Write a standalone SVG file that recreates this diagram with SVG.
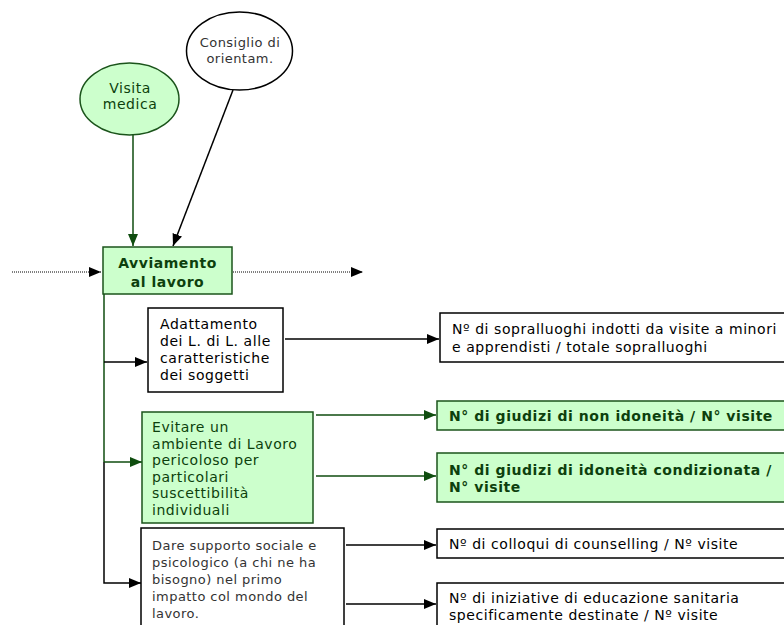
<svg xmlns="http://www.w3.org/2000/svg" width="784" height="625" viewBox="0 0 784 625">
<style>
  text { font-family: "DejaVu Sans", Verdana, sans-serif; font-size: 14px; letter-spacing: 0.55px; }
  .g { fill: #ccffcc; stroke: #1b541b; stroke-width: 1.5; }
  .w { fill: #ffffff; stroke: #000000; stroke-width: 1.5; }
  .gt { fill: #0d3f0d; }
  .bt { fill: #000000; }
  .lt { fill: #333333; font-size: 13px; letter-spacing: 0.45px; }
  .b { font-weight: bold; }
  .cg { stroke: #0f4d0f; stroke-width: 1.5; fill: none; }
  .ck { stroke: #000000; stroke-width: 1.5; fill: none; }
  .dot { stroke: #000000; stroke-width: 1; stroke-dasharray: 1 1; fill: none; }
</style>
<defs>
  <marker id="ak" markerUnits="userSpaceOnUse" markerWidth="14" markerHeight="12" refX="12" refY="5" orient="auto">
    <path d="M0,0 L12,5 L0,10 Z" fill="#000000"/>
  </marker>
  <marker id="ag" markerUnits="userSpaceOnUse" markerWidth="14" markerHeight="12" refX="12" refY="5" orient="auto">
    <path d="M0,0 L12,5 L0,10 Z" fill="#0f4d0f"/>
  </marker>
</defs>
<rect width="784" height="625" fill="#ffffff"/>

<g id="connectors">
  <line class="cg" x1="133" y1="135" x2="133" y2="246" marker-end="url(#ag)"/>
  <line class="ck" x1="233" y1="90" x2="173" y2="246" marker-end="url(#ak)"/>
  <line class="dot" x1="12" y1="272" x2="101" y2="272" marker-end="url(#ak)"/>
  <line class="dot" x1="233" y1="272" x2="363" y2="272" marker-end="url(#ak)"/>
  <line class="cg" x1="104" y1="294" x2="104" y2="462"/>
  <polyline class="ck" points="104,462 104,583 141,583" marker-end="url(#ak)"/>
  <line class="ck" x1="104" y1="362" x2="147" y2="362" marker-end="url(#ak)"/>
  <line class="cg" x1="104" y1="462" x2="142" y2="462" marker-end="url(#ag)"/>
  <line class="ck" x1="285" y1="339" x2="439" y2="339" marker-end="url(#ak)"/>
  <line class="cg" x1="316" y1="415" x2="436" y2="415" marker-end="url(#ag)"/>
  <line class="cg" x1="316" y1="476" x2="436" y2="476" marker-end="url(#ag)"/>
  <line class="ck" x1="346" y1="545" x2="436" y2="545" marker-end="url(#ak)"/>
  <line class="ck" x1="346" y1="604" x2="436" y2="604" marker-end="url(#ak)"/>
</g>

<g id="visita">
  <ellipse class="g" cx="129.5" cy="99" rx="49.5" ry="36"/>
  <text class="gt" x="130" y="93" text-anchor="middle">Visita</text>
  <text class="gt" x="130" y="109" text-anchor="middle">medica</text>
</g>

<g id="consiglio">
  <ellipse class="w" cx="239.5" cy="51" rx="53" ry="39"/>
  <text class="lt" x="240" y="47" text-anchor="middle">Consiglio di</text>
  <text class="lt" x="240" y="63" text-anchor="middle">orientam.</text>
</g>

<g id="avviamento">
  <rect class="g" x="103" y="247" width="129" height="47"/>
  <text class="gt b" x="167.5" y="268" text-anchor="middle">Avviamento</text>
  <text class="gt b" x="167.5" y="287" text-anchor="middle">al lavoro</text>
</g>

<g id="adattamento">
  <rect class="w" x="148" y="308" width="135" height="84"/>
  <text class="bt" x="160" y="329">Adattamento</text>
  <text class="bt" x="160" y="346">dei L. di L. alle</text>
  <text class="bt" x="160" y="363">caratteristiche</text>
  <text class="bt" x="160" y="380">dei soggetti</text>
</g>

<g id="evitare">
  <rect class="g" x="142" y="412" width="171" height="111"/>
  <text class="gt" x="152" y="432">Evitare un</text>
  <text class="gt" x="152" y="448.5">ambiente di Lavoro</text>
  <text class="gt" x="152" y="465">pericoloso per</text>
  <text class="gt" x="152" y="481.5">particolari</text>
  <text class="gt" x="152" y="498">suscettibilità</text>
  <text class="gt" x="152" y="514.5">individuali</text>
</g>

<g id="dare">
  <rect class="w" x="141" y="528" width="203" height="110"/>
  <text class="lt" x="152" y="550">Dare supporto sociale e</text>
  <text class="lt" x="152" y="567">psicologico (a chi ne ha</text>
  <text class="lt" x="152" y="584">bisogno) nel primo</text>
  <text class="lt" x="152" y="601">impatto col mondo del</text>
  <text class="lt" x="152" y="618">lavoro.</text>
</g>

<g id="ind1">
  <rect class="w" x="440" y="313" width="360" height="49"/>
  <text class="bt" x="452" y="334">Nº di sopralluoghi indotti da visite a minori</text>
  <text class="bt" x="452" y="352">e apprendisti / totale sopralluoghi</text>
</g>

<g id="ind2">
  <rect class="g" x="437" y="401" width="360" height="29"/>
  <text class="gt b" x="449" y="421">N° di giudizi di non idoneità / N° visite</text>
</g>

<g id="ind3">
  <rect class="g" x="437" y="453" width="360" height="49"/>
  <text class="gt b" x="449" y="475">N° di giudizi di idoneità condizionata /</text>
  <text class="gt b" x="449" y="492">N° visite</text>
</g>

<g id="ind4">
  <rect class="w" x="437" y="529" width="360" height="29"/>
  <text class="bt" x="449" y="549">Nº di colloqui di counselling / Nº visite</text>
</g>

<g id="ind5">
  <rect class="w" x="437" y="583" width="360" height="60"/>
  <text class="bt" x="449" y="603">Nº di iniziative di educazione sanitaria</text>
  <text class="bt" x="449" y="620">specificamente destinate / Nº visite</text>
</g>
</svg>
